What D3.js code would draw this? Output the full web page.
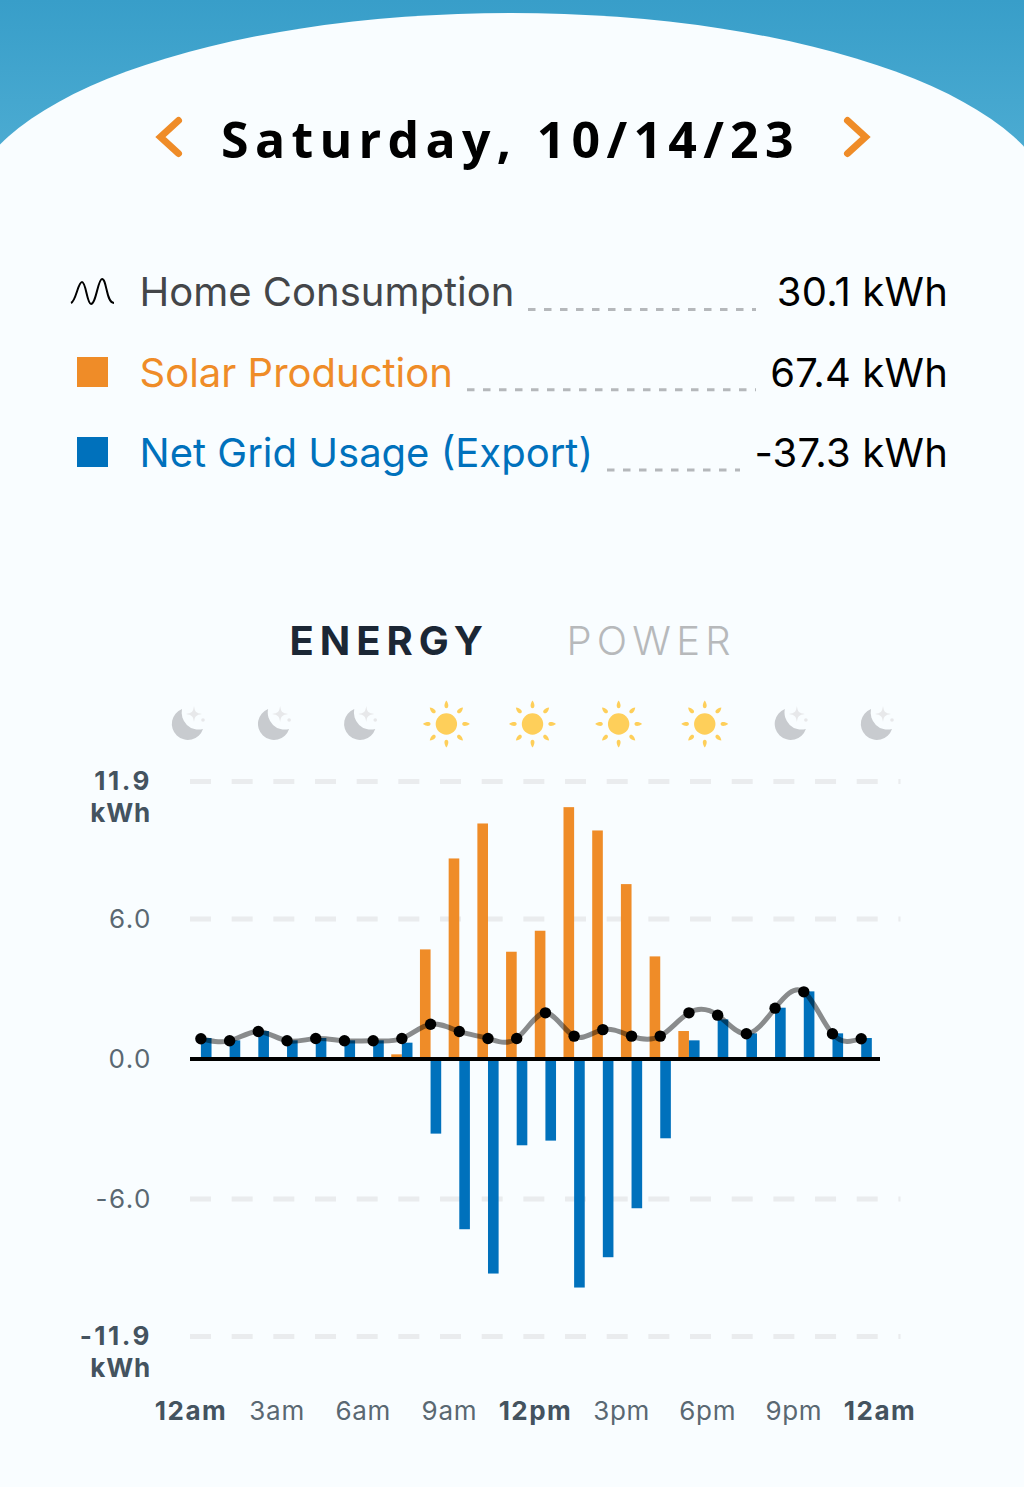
<!DOCTYPE html>
<html>
<head>
<meta charset="utf-8">
<script src="https://cdn.jsdelivr.net/npm/d3@7"></script>
<style>
html, body { margin: 0; padding: 0; background: #f9fdff; }
svg { display: block; }
text { font-family: Inter, sans-serif; }
</style>
</head>
<body>
<div id="chart"></div>
<script>
// Hourly energy figures for the day, in kWh
const hours = d3.range(24);
const homeConsumption = [0.87, 0.78, 1.18, 0.78, 0.88, 0.78, 0.78, 0.88, 1.49, 1.18, 0.88, 0.88,
                         1.98, 0.98, 1.26, 0.98, 0.98, 1.98, 1.88, 1.08, 2.18, 2.88, 1.08, 0.87];
const solarProduction = [0, 0, 0, 0, 0, 0, 0, 0.2, 4.7, 8.6, 10.1, 4.6,
                         5.5, 10.8, 9.8, 7.5, 4.4, 1.2, 0, 0, 0, 0, 0, 0];
const netGrid = [0.9, 0.8, 1.2, 0.8, 0.9, 0.8, 0.8, 0.7, -3.2, -7.3, -9.2, -3.7,
                 -3.5, -9.8, -8.5, -6.4, -3.4, 0.8, 1.7, 1.1, 2.2, 2.9, 1.1, 0.9];

const yTicks = [11.9, 6.0, 0.0, -6.0, -11.9];
const xTickHours = [0, 3, 6, 9, 12, 15, 18, 21, 24];
const xTickLabels = ["12am", "3am", "6am", "9am", "12pm", "3pm", "6pm", "9pm", "12am"];
const boldTickLabels = [true, false, false, false, true, false, false, false, true];
const skyIcons = ["moon", "moon", "moon", "sun", "sun", "sun", "sun", "moon", "moon"];

const legendRows = ["Home Consumption", "Solar Production", "Net Grid Usage (Export)"];
const legendValues = ["30.1 kWh", "67.4 kWh", "-37.3 kWh"];

const W = 1024, H = 1487;
const ORANGE = "#ef8c28", BLUE = "#0071bc";

const svg = d3.select("#chart").append("svg").attr("width", W).attr("height", H);
const defs = svg.append("defs");

const band = defs.append("linearGradient").attr("id", "band")
  .attr("x1", 0).attr("y1", 0).attr("x2", 0).attr("y2", 1);
band.append("stop").attr("offset", 0).attr("stop-color", "#389ec9");
band.append("stop").attr("offset", 1).attr("stop-color", "#4eadd3");

// Header band with the curved page edge cut out of it
svg.append("rect").attr("width", W).attr("height", 170).attr("fill", "url(#band)");
svg.append("ellipse").attr("cx", 511).attr("cy", 213).attr("rx", 544).attr("ry", 200)
  .attr("fill", "#f9fdff");

// Date heading and navigation chevrons
svg.append("text").attr("x", 510.5).attr("y", 158).attr("text-anchor", "middle")
  .style("font-family", "'Open Sans', sans-serif").style("font-weight", 700)
  .style("font-size", "50px").style("letter-spacing", "6.3px").attr("fill", "#000")
  .text("Saturday, 10/14/23");
const chevron = d3.line();
svg.append("path").attr("d", chevron([[178.5, 120.5], [160.5, 137], [178.5, 153.5]]))
  .attr("fill", "none").attr("stroke", ORANGE).attr("stroke-width", 7).attr("stroke-linecap", "round");
svg.append("path").attr("d", chevron([[847.5, 120.5], [865.5, 137], [847.5, 153.5]]))
  .attr("fill", "none").attr("stroke", ORANGE).attr("stroke-width", 7).attr("stroke-linecap", "round");

// Legend with dashed leaders running up to the daily totals
const legendY = [306, 386.5, 466.5];
const legendColors = ["#444649", ORANGE, BLUE];
const leaderSpans = [[528, 756], [467, 756], [607, 740]];
legendRows.forEach((label, i) => {
  svg.append("text").attr("x", 139.5).attr("y", legendY[i])
    .style("font-size", "40px").attr("fill", legendColors[i]).text(label);
  svg.append("line").attr("x1", leaderSpans[i][0]).attr("x2", leaderSpans[i][1])
    .attr("y1", 309.5 + i * 80.3).attr("y2", 309.5 + i * 80.3)
    .attr("stroke", "#b5b8bb").attr("stroke-width", 3).attr("stroke-dasharray", "7.5 8.5");
  svg.append("text").attr("x", 948).attr("y", legendY[i]).attr("text-anchor", "end")
    .style("font-size", "40px").style("letter-spacing", "0.2px").attr("fill", "#000").text(legendValues[i]);
});
svg.append("path").attr("d", "M71,303 C76,301 78,282 82,282 C86,282 87,304 91,304 C96,304 98,279 102,279 C107,279 106,303 114,303")
  .attr("fill", "none").attr("stroke", "#000").attr("stroke-width", 2);
svg.append("rect").attr("x", 77).attr("y", 357).attr("width", 31).attr("height", 30).attr("fill", ORANGE);
svg.append("rect").attr("x", 77).attr("y", 437).attr("width", 31).attr("height", 30).attr("fill", BLUE);

// Energy / power switch
svg.append("text").attr("x", 289.5).attr("y", 655)
  .style("font-size", "40px").style("font-weight", 700).style("letter-spacing", "6px")
  .attr("fill", "#1b2735").text("ENERGY");
svg.append("text").attr("x", 566.5).attr("y", 655)
  .style("font-size", "40px").style("font-weight", 300).style("letter-spacing", "5.2px")
  .attr("fill", "#b7b9bb").text("POWER");

// Scales
const x = d3.scaleLinear().domain([0, 24]).range([190, 879]);
const y = d3.scaleLinear().domain([-11.9, 11.9]).range([1336.5, 781.5]);
const barCentre = 0.38;
const barW = x(0.37) - x(0);

// Gridlines
svg.append("g").selectAll("line").data(yTicks.filter(d => d !== 0)).join("line")
  .attr("x1", 190).attr("x2", 900.5)
  .attr("y1", d => y(d)).attr("y2", d => y(d))
  .attr("stroke", "#eaecee").attr("stroke-width", 5)
  .attr("stroke-dasharray", "21 20.67");

// Bars: solar sits to the left of each hour's centre, net grid to the right
svg.append("g").selectAll("rect").data(hours.filter(h => solarProduction[h] > 0)).join("rect")
  .attr("x", h => x(h + barCentre) - barW)
  .attr("width", barW)
  .attr("y", h => y(solarProduction[h]))
  .attr("height", h => y(0) - y(solarProduction[h]))
  .attr("fill", ORANGE);
svg.append("g").selectAll("rect").data(hours).join("rect")
  .attr("x", h => x(h + barCentre))
  .attr("width", barW)
  .attr("y", h => y(Math.max(0, netGrid[h])))
  .attr("height", h => Math.abs(y(netGrid[h]) - y(0)))
  .attr("fill", BLUE);

// Zero line
svg.append("line").attr("x1", 190).attr("x2", 880).attr("y1", y(0)).attr("y2", y(0))
  .attr("stroke", "#000").attr("stroke-width", 4);

// Consumption line with a dot per hour
const consumptionLine = d3.line()
  .x(h => x(h + barCentre))
  .y(h => y(homeConsumption[h]))
  .curve(d3.curveNatural);
svg.append("path").attr("d", consumptionLine(hours))
  .attr("fill", "none").attr("stroke", "#000").attr("stroke-opacity", 0.45).attr("stroke-width", 5);
svg.append("g").selectAll("circle").data(hours).join("circle")
  .attr("cx", h => x(h + barCentre)).attr("cy", h => y(homeConsumption[h]))
  .attr("r", 5.7).attr("fill", "#000");

// Y axis
const yAxis = d3.axisLeft(y).tickValues(yTicks).tickSize(0).tickPadding(0)
  .tickFormat(d => d3.format(".1f")(d).replace("\u2212", "-"));
const yG = svg.append("g").attr("transform", "translate(152,0)").call(yAxis);
yG.select(".domain").remove();
yG.selectAll(".tick text")
  .style("font-family", "Inter, sans-serif").style("font-size", "26px")
  .style("letter-spacing", d => Math.abs(d) === 11.9 ? "2.5px" : "1.5px")
  .style("font-weight", d => Math.abs(d) === 11.9 ? 700 : 400)
  .attr("fill", d => Math.abs(d) === 11.9 ? "#44535f" : "#5a6872");
yG.selectAll(".tick").filter(d => Math.abs(d) === 11.9).append("text")
  .attr("x", -1).attr("y", 32).attr("dy", "0.32em").attr("text-anchor", "end")
  .style("font-family", "Inter, sans-serif").style("font-size", "26px").style("font-weight", 700)
  .style("letter-spacing", "0.8px").attr("fill", "#44535f").text("kWh");

// X axis
const xAxis = d3.axisBottom(x).tickValues(xTickHours).tickSize(0).tickPadding(0)
  .tickFormat((d, i) => xTickLabels[i]);
const xG = svg.append("g").attr("transform", "translate(0.5,1402)").call(xAxis);
xG.select(".domain").remove();
xG.selectAll(".tick text")
  .style("font-family", "Inter, sans-serif").style("font-size", "26px")
  .style("letter-spacing", (d, i) => boldTickLabels[i] ? "1.5px" : "0.7px")
  .style("font-weight", (d, i) => boldTickLabels[i] ? 700 : 400)
  .attr("fill", (d, i) => boldTickLabels[i] ? "#44535f" : "#5a6872");

// Day / night markers above the plot
const iconX = d3.scalePoint().domain(d3.range(skyIcons.length)).range([188, 877]);
const rays = d3.range(8);
skyIcons.forEach((kind, i) => {
  const g = svg.append("g").attr("transform", `translate(${iconX(i)},724)`);
  if (kind === "sun") {
    g.append("circle").attr("cx", 0).attr("r", 10.7).attr("fill", "#fecf5a");
    g.selectAll("path").data(rays).join("path")
      .attr("d", "M0,-23.5 C2.6,-20 2.6,-16 0,-15.8 C-2.6,-16 -2.6,-20 0,-23.5 Z")
      .attr("transform", r => `rotate(${r * 45})`)
      .attr("fill", "#fecf5a");
  } else {
    g.append("path")
      .attr("d", "M-6,-15 A16,16 0 1 0 15,5 A17,17 0 0 1 -6,-15 Z")
      .attr("fill", "#c8cbcf");
    g.append("path")
      .attr("d", "M6,-18 C7,-12 8,-11 14,-10 C8,-9 7,-8 6,-2 C5,-8 4,-9 -2,-10 C4,-11 5,-12 6,-18 Z")
      .attr("fill", "#e7e8ea");
    g.append("circle").attr("cx", 15).attr("cy", -4).attr("r", 1.8).attr("fill", "#e7e8ea");
  }
});
</script>
</body>
</html>
